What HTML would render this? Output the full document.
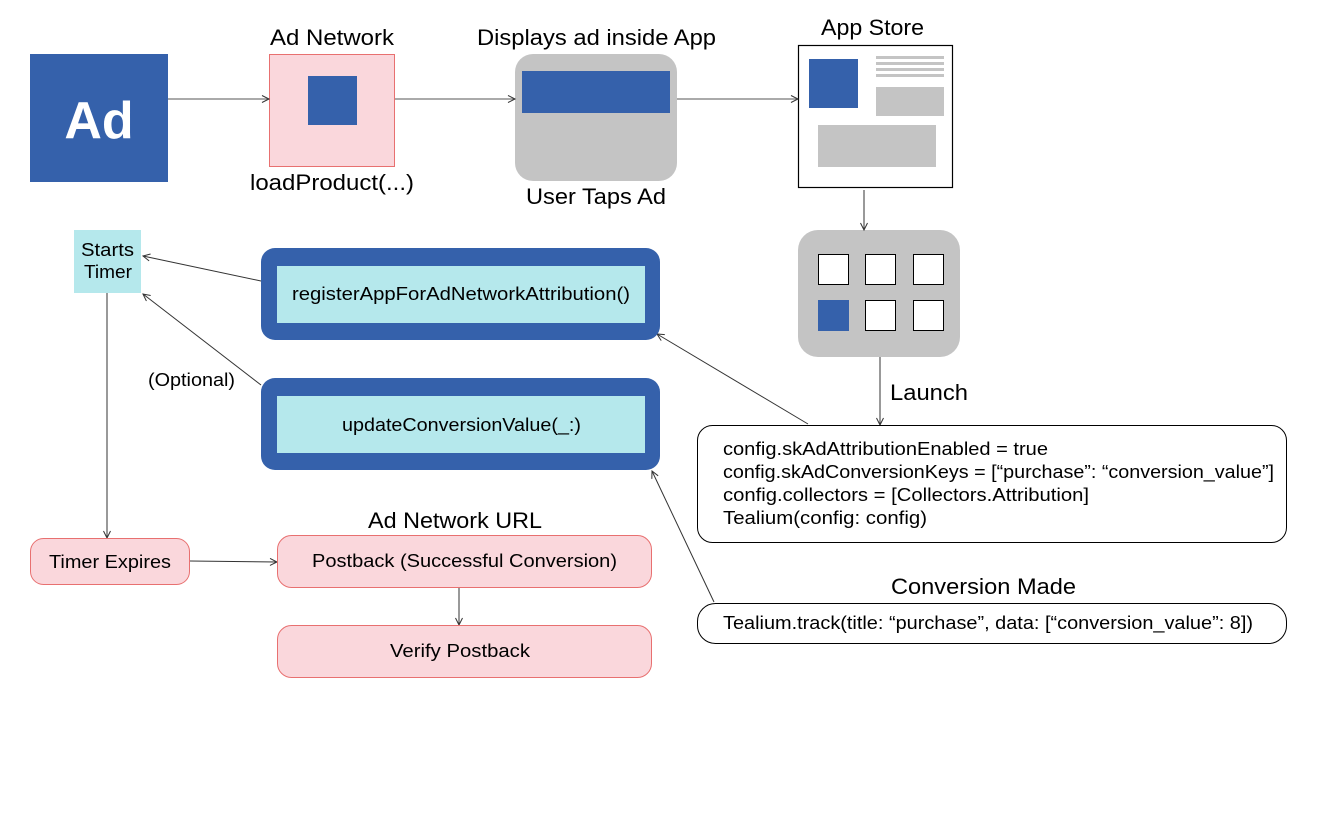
<!DOCTYPE html>
<html><head><meta charset="utf-8"><style>
html,body{margin:0;padding:0;background:#fff;}
svg{display:block;font-family:"Liberation Sans",Roboto,sans-serif;}
</style></head><body>
<svg width="1320" height="830" viewBox="0 0 1320 830" xmlns="http://www.w3.org/2000/svg">
<defs>
<marker id="a" markerWidth="10" markerHeight="10" refX="8" refY="4" orient="auto" markerUnits="userSpaceOnUse">
<path d="M1,0.5 L8,4 L1,7.5" fill="none" stroke="#333" stroke-width="1"/>
</marker>
</defs>
<!-- Ad -->
<rect x="30" y="54" width="138" height="128" fill="#3561ab"/>
<text x="99" y="138" font-size="52" font-weight="bold" fill="#fff" text-anchor="middle">Ad</text>
<!-- Ad network -->
<text x="270" y="45" font-size="22" textLength="124" lengthAdjust="spacingAndGlyphs">Ad Network</text>
<rect x="269.5" y="54.5" width="125" height="112" fill="#fad7dc" stroke="#e87070"/>
<rect x="308" y="76" width="49" height="49" fill="#3561ab"/>
<text x="250" y="190" font-size="22" textLength="164" lengthAdjust="spacingAndGlyphs">loadProduct(...)</text>
<!-- phone -->
<text x="477" y="45" font-size="22" textLength="239" lengthAdjust="spacingAndGlyphs">Displays ad inside App</text>
<rect x="515" y="54" width="162" height="127" rx="18" fill="#c4c4c4"/>
<rect x="522" y="71" width="148" height="42" fill="#3561ab"/>
<text x="526" y="204" font-size="22" textLength="140" lengthAdjust="spacingAndGlyphs">User Taps Ad</text>
<!-- app store -->
<text x="821" y="35" font-size="22" textLength="103" lengthAdjust="spacingAndGlyphs">App Store</text>
<rect x="798.5" y="45.5" width="154" height="142" fill="#fff" stroke="#000" stroke-width="1.2"/>
<rect x="809" y="59" width="49" height="49" fill="#3561ab"/>
<rect x="876" y="56" width="68" height="3" fill="#c4c4c4"/>
<rect x="876" y="62" width="68" height="3" fill="#c4c4c4"/>
<rect x="876" y="68" width="68" height="3" fill="#c4c4c4"/>
<rect x="876" y="74" width="68" height="3" fill="#c4c4c4"/>
<rect x="876" y="87" width="68" height="29" fill="#c4c4c4"/>
<rect x="818" y="125" width="118" height="42" fill="#c4c4c4"/>
<!-- home screen -->
<rect x="798" y="230" width="162" height="127" rx="20" fill="#c4c4c4"/>
<g fill="#fff" stroke="#000" stroke-width="1">
<rect x="818.5" y="254.5" width="30" height="30"/>
<rect x="865.5" y="254.5" width="30" height="30"/>
<rect x="913.5" y="254.5" width="30" height="30"/>
<rect x="865.5" y="300.5" width="30" height="30"/>
<rect x="913.5" y="300.5" width="30" height="30"/>
</g>
<rect x="818" y="300" width="31" height="31" fill="#3561ab"/>
<!-- arrows top -->
<g stroke="#777" stroke-width="1.3" fill="none" marker-end="url(#a)">
<line x1="168" y1="99" x2="269" y2="99"/>
<line x1="395" y1="99" x2="515" y2="99"/>
<line x1="677" y1="99" x2="798" y2="99"/>
</g>
<g stroke="#333" stroke-width="1" fill="none" marker-end="url(#a)">
<line x1="864" y1="190" x2="864" y2="230"/>
<line x1="880" y1="357" x2="880" y2="425"/>
<line x1="808" y1="424" x2="657" y2="334"/>
<line x1="714" y1="602" x2="652" y2="471"/>
<line x1="261" y1="281" x2="143" y2="256"/>
<line x1="261" y1="385" x2="143" y2="294"/>
<line x1="107" y1="293" x2="107" y2="538"/>
<line x1="190" y1="561" x2="277" y2="562"/>
<line x1="459" y1="588" x2="459" y2="625"/>
</g>
<text x="890" y="400" font-size="22" textLength="78" lengthAdjust="spacingAndGlyphs">Launch</text>
<!-- config box -->
<rect x="697.5" y="425.5" width="589" height="117" rx="15" fill="#fff" stroke="#000"/>
<g font-size="18">
<text x="723" y="455" textLength="325" lengthAdjust="spacingAndGlyphs">config.skAdAttributionEnabled = true</text>
<text x="723" y="478" textLength="551" lengthAdjust="spacingAndGlyphs">config.skAdConversionKeys = [“purchase”: “conversion_value”]</text>
<text x="723" y="501" textLength="366" lengthAdjust="spacingAndGlyphs">config.collectors = [Collectors.Attribution]</text>
<text x="723" y="524" textLength="204" lengthAdjust="spacingAndGlyphs">Tealium(config: config)</text>
</g>
<text x="891" y="594" font-size="22" textLength="185" lengthAdjust="spacingAndGlyphs">Conversion Made</text>
<rect x="697.5" y="603.5" width="589" height="40" rx="18" fill="#fff" stroke="#000"/>
<text x="723" y="629" font-size="18" textLength="530" lengthAdjust="spacingAndGlyphs">Tealium.track(title: “purchase”, data: [“conversion_value”: 8])</text>
<!-- blue boxes -->
<rect x="261" y="248" width="399" height="92" rx="14" fill="#3561ab"/>
<rect x="277" y="266" width="368" height="57" fill="#b5e8ec"/>
<text x="292" y="300" font-size="18" textLength="338" lengthAdjust="spacingAndGlyphs">registerAppForAdNetworkAttribution()</text>
<rect x="261" y="378" width="399" height="92" rx="14" fill="#3561ab"/>
<rect x="277" y="396" width="368" height="57" fill="#b5e8ec"/>
<text x="342" y="431" font-size="18" textLength="239" lengthAdjust="spacingAndGlyphs">updateConversionValue(_:)</text>
<!-- timer -->
<rect x="74" y="230" width="67" height="63" fill="#b5e8ec"/>
<text x="81" y="256" font-size="18" textLength="53" lengthAdjust="spacingAndGlyphs">Starts</text>
<text x="84" y="278" font-size="18" textLength="48" lengthAdjust="spacingAndGlyphs">Timer</text>
<text x="148" y="386" font-size="18" textLength="87" lengthAdjust="spacingAndGlyphs">(Optional)</text>
<rect x="30.5" y="538.5" width="159" height="46" rx="13" fill="#fad7dc" stroke="#e87070"/>
<text x="49" y="568" font-size="18" textLength="122" lengthAdjust="spacingAndGlyphs">Timer Expires</text>
<text x="368" y="528" font-size="22" textLength="174" lengthAdjust="spacingAndGlyphs">Ad Network URL</text>
<rect x="277.5" y="535.5" width="374" height="52" rx="14" fill="#fad7dc" stroke="#e87070"/>
<text x="312" y="567" font-size="18" textLength="305" lengthAdjust="spacingAndGlyphs">Postback (Successful Conversion)</text>
<rect x="277.5" y="625.5" width="374" height="52" rx="14" fill="#fad7dc" stroke="#e87070"/>
<text x="390" y="657" font-size="18" textLength="140" lengthAdjust="spacingAndGlyphs">Verify Postback</text>
</svg>
</body></html>
